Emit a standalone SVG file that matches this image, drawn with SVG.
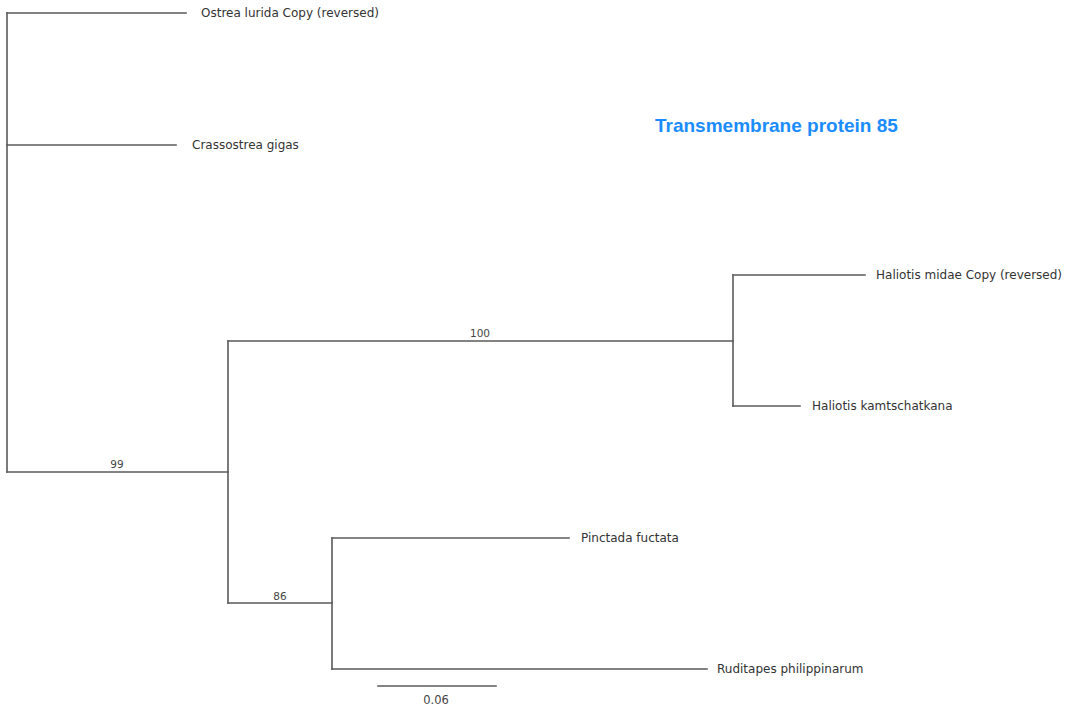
<svg xmlns="http://www.w3.org/2000/svg" width="1070" height="713" viewBox="0 0 1070 713">
<style>
.br{stroke:#5a5a5a;stroke-width:1.6;fill:none;stroke-linecap:square}
.lb{font-family:"DejaVu Sans",sans-serif;font-size:12px;fill:#333}
.bs{font-family:"DejaVu Sans",sans-serif;font-size:10.5px;fill:#444;text-anchor:middle}
</style>
<rect width="1070" height="713" fill="#fff"/>
<g id="connectors">
<path class="br" d="M7 13V472"/>
<path class="br" d="M7 13H186"/>
<path class="br" d="M7 145H176"/>
<path class="br" d="M7 472H228"/>
<path class="br" d="M228 341V603"/>
<path class="br" d="M228 341H733"/>
<path class="br" d="M733 275V406"/>
<path class="br" d="M733 275H865"/>
<path class="br" d="M733 406H800"/>
<path class="br" d="M228 603H332"/>
<path class="br" d="M332 538V669"/>
<path class="br" d="M332 538H569"/>
<path class="br" d="M332 669H707"/>
</g>
<g id="ostrea"><text class="lb" x="201" y="17">Ostrea lurida Copy (reversed)</text></g>
<g id="crassostrea"><text class="lb" x="192" y="149">Crassostrea gigas</text></g>
<g id="haliotis-midae"><text class="lb" x="876" y="279">Haliotis midae Copy (reversed)</text></g>
<g id="haliotis-kamt"><text class="lb" x="812" y="410">Haliotis kamtschatkana</text></g>
<g id="pinctada"><text class="lb" x="581" y="542">Pinctada fuctata</text></g>
<g id="ruditapes"><text class="lb" x="717" y="673">Ruditapes philippinarum</text></g>
<g id="support">
<text class="bs" x="117" y="468">99</text>
<text class="bs" x="480" y="337">100</text>
<text class="bs" x="280" y="600">86</text>
</g>
<g id="scale">
<path class="br" d="M378 686H496"/>
<text class="bs" x="436" y="704" style="font-size:11.5px">0.06</text>
</g>
<g id="title"><text x="655" y="132" style="font-family:'Liberation Sans',Arial,sans-serif;font-weight:bold;font-size:19px;fill:#1a8cff">Transmembrane protein 85</text></g>
</svg>
